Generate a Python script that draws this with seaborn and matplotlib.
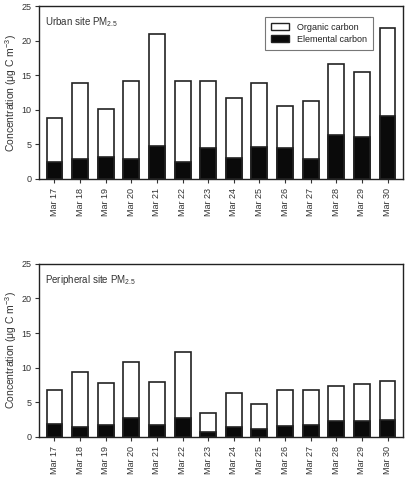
import numpy as np
import pandas as pd
import matplotlib.pyplot as plt
import seaborn as sns
from matplotlib.patches import Patch

days = ["Mar 17", "Mar 18", "Mar 19", "Mar 20", "Mar 21", "Mar 22", "Mar 23",
        "Mar 24", "Mar 25", "Mar 26", "Mar 27", "Mar 28", "Mar 29", "Mar 30"]

urban_ec = [2.4, 2.8, 3.1, 2.8, 4.7, 2.5, 4.5, 3.0, 4.6, 4.5, 2.9, 6.3, 6.0, 9.1]
urban_oc = [6.4, 11.1, 7.0, 11.4, 16.3, 11.7, 9.7, 8.7, 9.3, 6.1, 8.3, 10.4, 9.4, 12.8]

periph_ec = [1.9, 1.4, 1.7, 2.8, 1.7, 2.8, 0.7, 1.5, 1.2, 1.6, 1.7, 2.3, 2.3, 2.5]
periph_oc = [4.9, 8.0, 6.1, 8.0, 6.3, 9.4, 2.8, 4.8, 3.6, 5.2, 5.1, 5.0, 5.4, 5.6]

sns.set_style("ticks")
plt.rcParams['font.family'] = ['Liberation Sans', 'DejaVu Sans']
plt.rcParams['mathtext.fontset'] = 'custom'
plt.rcParams['mathtext.rm'] = 'Liberation Sans'
plt.rcParams['text.color'] = '#222222'

fig = plt.figure(figsize=(4.07, 4.78), dpi=100)
ax1 = fig.add_axes([0.096, 0.626, 0.894, 0.361])
ax2 = fig.add_axes([0.096, 0.086, 0.894, 0.362])


def draw_panel(ax, oc, ec, title, legend=False):
    df = pd.DataFrame({'Day': days, 'EC': ec, 'Total': np.array(oc) + np.array(ec)})
    sns.barplot(data=df, x='Day', y='Total', color='white', edgecolor='#222222',
                linewidth=1.2, width=0.62, ax=ax)
    sns.barplot(data=df, x='Day', y='EC', color='#0a0a0a', edgecolor='#222222',
                linewidth=1.2, width=0.62, ax=ax)
    ax.set_ylim(0, 25)
    ax.set_xlim(-0.6, len(days) - 0.4)
    ax.set_yticks([0, 5, 10, 15, 20, 25])
    ax.set_xlabel('')
    ax.set_ylabel('Concentration (μg C m$^{-3}$)', fontsize=7.5, color='#333333',
                  labelpad=1.5)
    ax.tick_params(axis='x', labelrotation=90, labelsize=6.5, length=3, width=0.8, colors='#333333')
    ax.tick_params(axis='y', labelsize=6.5, length=3, width=0.8, colors='#333333', pad=2.5)
    for s in ax.spines.values():
        s.set_linewidth(1.0)
        s.set_color('#222222')
    ax.text(0.015, 0.95, title, transform=ax.transAxes, fontsize=7,
            va='top', ha='left', color='#333333')
    if legend:
        handles = [Patch(facecolor='white', edgecolor='#222222', linewidth=1.0, label='Organic carbon'),
                   Patch(facecolor='#0a0a0a', edgecolor='#222222', linewidth=1.0, label='Elemental carbon')]
        leg = ax.legend(handles=handles, loc='upper right', bbox_to_anchor=(0.93, 0.965),
                        fontsize=6.5, frameon=True, fancybox=False, edgecolor='#555555',
                        handlelength=2.0, handleheight=0.8, borderpad=0.7, labelspacing=0.3)
        leg.get_frame().set_linewidth(0.8)


draw_panel(ax1, urban_oc, urban_ec, 'Urban site PM$_{2.5}$', legend=True)
draw_panel(ax2, periph_oc, periph_ec, 'Peripheral site PM$_{2.5}$')

fig.savefig('out.png', dpi=100)
